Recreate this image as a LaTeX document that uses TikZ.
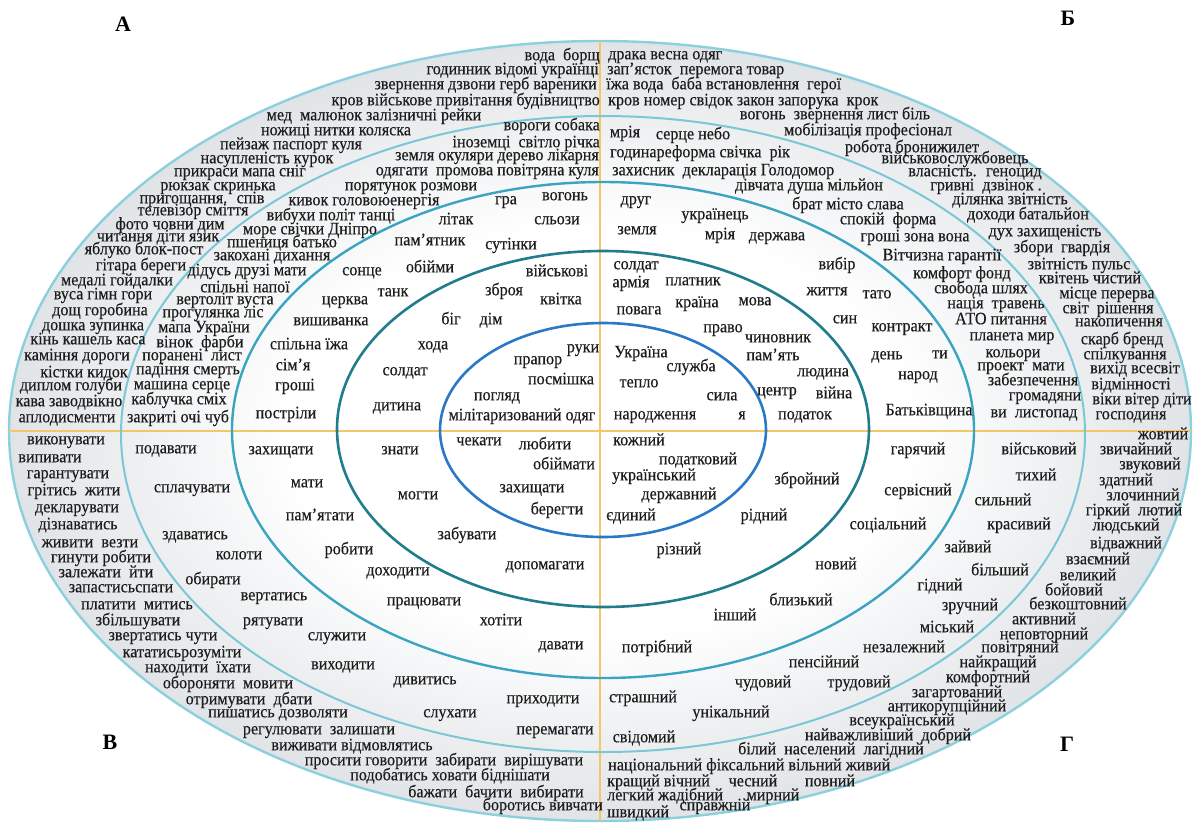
\documentclass[tikz,border=0pt]{standalone}
\usepackage{fontspec}
\setmainfont{Liberation Serif}
\newfontfamily\wdfamily[FakeStretch=0.92, FakeBold=0.3]{Liberation Serif}
\usetikzlibrary{shapes.geometric}
\definecolor{wdink}{HTML}{1C1C1C}
\definecolor{discgray}{HTML}{E1E4E7}
\definecolor{ringfive}{HTML}{8CCFDD}
\definecolor{ringfour}{HTML}{7CC7D7}
\definecolor{ringthree}{HTML}{3BA4C0}
\definecolor{ringtwo}{HTML}{1F7D8C}
\definecolor{ringone}{HTML}{2A79C6}
\definecolor{axisline}{HTML}{F6C46A}
\pgfdeclareradialshading{discshade}{\pgfpoint{0bp}{0bp}}{color(0bp)=(white); color(13bp)=(white); color(20bp)=(discgray!60); color(25bp)=(discgray); color(50bp)=(discgray)}
\newcommand\wdfont{\wdfamily\fontsize{17.5}{17.5}\selectfont}
\tikzset{
  ring/.style={ellipse, inner sep=0pt, outer sep=0pt, line width=#1},
  wd/.style={font=\wdfont, text=wdink, inner sep=0pt, anchor=mid},
  wl/.style={wd, anchor=mid west},
  wr/.style={wd, anchor=mid east},
  quad/.style={font=\fontsize{22}{22}\selectfont\bfseries, inner sep=0pt}
}
\begin{document}
\begin{tikzpicture}[x=1pt,y=-1pt]
\useasboundingbox (0,0) rectangle (1195,823);
% rings, outer to inner
\node[ring=2.4pt, draw=ringfive, shading=discshade, minimum width=1182, minimum height=780] (e5) at (600,431){};
\draw[axisline, line width=1.4pt](e5.west) -- (e5.east);
\draw[axisline, line width=1.4pt](e5.north) -- (e5.south);
\node[ring=2pt, draw=ringfour, minimum width=964, minimum height=636] (e4) at (603,434){};
\node[ring=2.4pt, draw=ringthree, minimum width=742, minimum height=496] (e3) at (603,430){};
\node[ring=2.6pt, draw=ringtwo, minimum width=532, minimum height=356] (e2) at (603,429){};
\node[ring=2.6pt, draw=ringone, minimum width=326, minimum height=214] (e1) at (603,430){};
% quarter letters
\node[quad] (qa) at (123,24){А};
\node[quad] (qb) at (1068,18){Б};
\node[quad] (qv) at (110,742){В};
\node[quad] (qg) at (1067,744){Г};
% quarter A, outer ring
\node[wr] (oa1) at (600,58){вода \ борщ};
\node[wr] (oa2) at (599,72){годинник відомі українці};
\node[wr] (oa3) at (597,87){звернення дзвони герб вареники};
\node[wr] (oa4) at (600,103){кров військове привітання будівництво};
\node[wd] (oa5) at (374,118){мед \ малюнок залізничні рейки};
\node[wd] (oa6) at (336,133){ножиці нитки коляска};
\node[wd] (oa7) at (291,147){пейзаж паспорт куля};
\node[wd] (oa8) at (267,161){насупленість курок};
\node[wd] (oa9) at (240,174){прикраси мапа сніг};
\node[wd] (oa10) at (218,188){рюкзак скринька};
\node[wd] (oa11) at (202,201){пригощання. \ спів};
\node[wd] (oa12) at (193,213){телевізор сміття};
\node[wd] (oa13) at (170,227){фото човни дим};
\node[wd] (oa14) at (158,239){читання діти язик};
\node[wd] (oa15) at (144,252){яблуко блок-пост};
\node[wd] (oa16) at (141,268){гітара береги};
\node[wd] (oa17) at (117,283){медалі гойдалки};
\node[wd] (oa18) at (103,297){вуса гімн гори};
\node[wd] (oa19) at (100,313){дощ горобина};
\node[wd] (oa20) at (93,328){дошка зупинка};
\node[wd] (oa21) at (88,342){кінь кашель каса};
\node[wd] (oa22) at (77,358){каміння дороги};
\node[wd] (oa23) at (84,375){кістки кидок};
\node[wd] (oa24) at (71,388){диплом голуби};
\node[wd] (oa25) at (69,404){кава заводвікно};
\node[wd] (oa26) at (67,420){аплодисменти};
% quarter A, fourth ring
\node[wr] (ta1) at (600,128){вороги собака};
\node[wr] (ta2) at (600,145){іноземці \ світло річка};
\node[wr] (ta3) at (599,158){земля окуляри дерево лікарня};
\node[wr] (ta4) at (599,173){одягати \ промова повітряна куля};
\node[wd] (ta5) at (411,188){порятунок розмови};
\node[wd] (ta6) at (364,203){кивок головоюенергія};
\node[wd] (ta7) at (331,218){вибухи політ танці};
\node[wd] (ta8) at (310,232){море свічки Дніпро};
\node[wd] (ta9) at (282,245){пшениця батько};
\node[wd] (ta10) at (272,258){закохані дихання};
\node[wd] (ta11) at (247,273){дідусь друзі мати};
\node[wd] (ta12) at (245,290){спільні напої};
\node[wd] (ta13) at (225,302){вертоліт вуста};
\node[wd] (ta14) at (213,315){прогулянка ліс};
\node[wd] (ta15) at (204,330){мапа України};
\node[wd] (ta16) at (200,345){вінок \ фарби};
\node[wd] (ta17) at (192,358){поранені \ лист};
\node[wd] (ta18) at (188,372){падіння смерть};
\node[wd] (ta19) at (182,387){машина серце};
\node[wd] (ta20) at (179,402){каблучка сміх};
\node[wd] (ta21) at (178,420){закриті очі чуб};
% quarter A, third ring
\node[wd] (sa1) at (506,202){гра};
\node[wd] (sa2) at (565,198){вогонь};
\node[wd] (sa3) at (456,222){літак};
\node[wd] (sa4) at (557,222){сльози};
\node[wd] (sa5) at (430,243){пам’ятник};
\node[wd] (sa6) at (511,247){сутінки};
\node[wd] (sa7) at (362,273){сонце};
\node[wd] (sa8) at (430,270){обійми};
\node[wd] (sa9) at (393,294){танк};
\node[wd] (sa10) at (345,302){церква};
\node[wd] (sa11) at (331,323){вишиванка};
\node[wd] (sa12) at (309,347){спільна їжа};
\node[wd] (sa13) at (293,368){сім’я};
\node[wd] (sa14) at (295,388){гроші};
\node[wd] (sa15) at (286,416){постріли};
% quarter A, second ring
\node[wd] (na1) at (557,274){військові};
\node[wd] (na2) at (504,293){зброя};
\node[wd] (na3) at (561,302){квітка};
\node[wd] (na4) at (451,322){біг};
\node[wd] (na5) at (491,322){дім};
\node[wd] (na6) at (433,347){хода};
\node[wd] (na7) at (405,373){солдат};
\node[wd] (na8) at (397,408){дитина};
% quarter A, core
\node[wd] (ca1) at (538,362){прапор};
\node[wd] (ca2) at (583,350){руки};
\node[wd] (ca3) at (561,382){посмішка};
\node[wd] (ca4) at (497,398){погляд};
\node[wd] (ca5) at (522,418){мілітаризований одяг};
% quarter B, outer ring
\node[wl] (ob1) at (608,57){драка весна одяг};
\node[wl] (ob2) at (607,72){зап’ясток \ перемога товар};
\node[wl] (ob3) at (606,87){їжа вода \ баба встановлення \ герої};
\node[wl] (ob4) at (608,103){кров номер свідок закон запорука \ крок};
\node[wd] (ob5) at (835,117){вогонь \ звернення лист біль};
\node[wd] (ob6) at (868,133){мобілізація професіонал};
\node[wd] (ob7) at (912,150){робота бронижилет};
\node[wd] (ob8) at (955,161){військовослужбовець};
\node[wd] (ob9) at (975,174){власність. \ геноцид};
\node[wd] (ob10) at (986,188){гривні \ дзвінок .};
\node[wd] (ob11) at (1010,202){ділянка звітність};
\node[wd] (ob12) at (1028,217){доходи батальйон};
\node[wd] (ob13) at (1045,234){дух захищеність};
\node[wd] (ob14) at (1062,250){збори \ гвардія};
\node[wd] (ob15) at (1079,267){звітність пульс};
\node[wd] (ob16) at (1090,281){квітень чистий};
\node[wd] (ob17) at (1107,296){місце перерва};
\node[wd] (ob18) at (1108,311){світ \ рішення};
\node[wd] (ob19) at (1119,324){накопичення};
\node[wd] (ob20) at (1122,342){скарб бренд};
\node[wd] (ob21) at (1125,357){спілкування};
\node[wd] (ob22) at (1135,371){вихід всесвіт};
\node[wd] (ob23) at (1131,387){відмінності};
\node[wd] (ob24) at (1142,402){віки вітер діти};
\node[wd] (ob25) at (1131,417){господиня};
% quarter B, fourth ring
\node[wd] (tb1) at (625,135){мрія};
\node[wd] (tb2) at (693,137){серце небо};
\node[wl] (tb3) at (610,155){годинареформа свічка \ рік};
\node[wl] (tb4) at (612,173){захисник \ декларація Голодомор};
\node[wd] (tb5) at (809,188){дівчата душа мільйон};
\node[wd] (tb6) at (848,207){брат місто слава};
\node[wd] (tb7) at (888,222){спокій \ форма};
\node[wd] (tb8) at (915,239){гроші зона вона};
\node[wd] (tb9) at (942,258){Вітчизна гарантії};
\node[wd] (tb10) at (962,276){комфорт фонд};
\node[wd] (tb11) at (981,291){свобода шлях};
\node[wd] (tb12) at (996,306){нація \ травень};
\node[wd] (tb13) at (1001,322){АТО питання};
\node[wd] (tb14) at (1012,338){планета мир};
\node[wd] (tb15) at (1013,355){кольори};
\node[wd] (tb16) at (1021,368){проект \ мати};
\node[wd] (tb17) at (1033,383){забезпечення};
\node[wd] (tb18) at (1045,398){громадяни};
\node[wd] (tb19) at (1034,415){ви \ листопад};
% quarter B, third ring
\node[wd] (sb1) at (636,202){друг};
\node[wd] (sb2) at (715,217){українець};
\node[wd] (sb3) at (637,232){земля};
\node[wd] (sb4) at (720,237){мрія};
\node[wd] (sb5) at (777,238){держава};
\node[wd] (sb6) at (837,267){вибір};
\node[wd] (sb7) at (827,293){життя};
\node[wd] (sb8) at (877,296){тато};
\node[wd] (sb9) at (845,321){син};
\node[wd] (sb10) at (902,329){контракт};
\node[wd] (sb11) at (887,357){день};
\node[wd] (sb12) at (940,356){ти};
\node[wd] (sb13) at (918,377){народ};
\node[wd] (sb14) at (929,413){Батьківщина};
% quarter B, second ring
\node[wd] (nb1) at (636,267){солдат};
\node[wd] (nb2) at (631,285){армія};
\node[wd] (nb3) at (693,283){платник};
\node[wd] (nb4) at (639,312){повага};
\node[wd] (nb5) at (697,305){країна};
\node[wd] (nb6) at (755,303){мова};
\node[wd] (nb7) at (723,330){право};
\node[wd] (nb8) at (778,340){чиновник};
\node[wd] (nb9) at (773,358){пам’ять};
\node[wd] (nb10) at (823,374){людина};
\node[wd] (nb11) at (777,393){центр};
\node[wd] (nb12) at (834,396){війна};
\node[wd] (nb13) at (805,417){податок};
% quarter B, core
\node[wd] (cb1) at (641,355){Україна};
\node[wd] (cb2) at (691,369){служба};
\node[wd] (cb3) at (639,385){тепло};
\node[wd] (cb4) at (722,398){сила};
\node[wd] (cb5) at (655,417){народження};
\node[wd] (cb6) at (742,417){я};
% quarter V, outer ring
\node[wd] (ov1) at (66,442){виконувати};
\node[wd] (ov2) at (50,460){випивати};
\node[wd] (ov3) at (68,476){гарантувати};
\node[wd] (ov4) at (74,493){грітись \ жити};
\node[wd] (ov5) at (77,510){декларувати};
\node[wd] (ov6) at (78,527){дізнаватись};
\node[wd] (ov7) at (90,545){живити \ везти};
\node[wd] (ov8) at (101,560){гинути робити};
\node[wd] (ov9) at (106,575){залежати \ йти};
\node[wd] (ov10) at (121,590){запастисьспати};
\node[wd] (ov11) at (137,607){платити \ митись};
\node[wd] (ov12) at (138,623){збільшувати};
\node[wd] (ov13) at (163,638){звертатись чути};
\node[wd] (ov14) at (182,655){кататисьрозуміти};
\node[wd] (ov15) at (198,670){находити \ їхати};
\node[wd] (ov16) at (228,686){обороняти \ мовити};
\node[wd] (ov17) at (249,702){отримувати \ дбати};
\node[wd] (ov18) at (278,715){пишатись дозволяти};
\node[wd] (ov19) at (319,732){регулювати \ залишати};
\node[wd] (ov20) at (352,748){виживати відмовлятись};
\node[wd] (ov21) at (444,763){просити говорити \ забирати \ вирішувати};
\node[wd] (ov22) at (450,778){подобатись ховати біднішати};
\node[wd] (ov23) at (496,795){бажати \ бачити \ вибирати};
\node[wr] (ov24) at (603,808){боротись вивчати};
% quarter V, fourth ring
\node[wd] (tv1) at (166,451){подавати};
\node[wd] (tv2) at (192,490){сплачувати};
\node[wd] (tv3) at (195,537){здаватись};
\node[wd] (tv4) at (239,557){колоти};
\node[wd] (tv5) at (213,582){обирати};
\node[wd] (tv6) at (274,598){вертатись};
\node[wd] (tv7) at (273,623){рятувати};
\node[wd] (tv8) at (337,638){служити};
\node[wd] (tv9) at (343,667){виходити};
\node[wd] (tv10) at (425,682){дивитись};
\node[wd] (tv11) at (543,701){приходити};
\node[wd] (tv12) at (450,715){слухати};
\node[wd] (tv13) at (555,732){перемагати};
% quarter V, third ring
\node[wd] (sv1) at (281,452){захищати};
\node[wd] (sv2) at (307,485){мати};
\node[wd] (sv3) at (320,518){пам’ятати};
\node[wd] (sv4) at (349,552){робити};
\node[wd] (sv5) at (398,573){доходити};
\node[wd] (sv6) at (424,603){працювати};
\node[wd] (sv7) at (501,623){хотіти};
\node[wd] (sv8) at (561,647){давати};
% quarter V, second ring
\node[wd] (nv1) at (400,452){знати};
\node[wd] (nv2) at (418,497){могти};
\node[wd] (nv3) at (467,537){забувати};
\node[wd] (nv4) at (545,567){допомагати};
% quarter V, core
\node[wd] (cv1) at (479,443){чекати};
\node[wd] (cv2) at (545,447){любити};
\node[wd] (cv3) at (564,467){обіймати};
\node[wd] (cv4) at (532,490){захищати};
\node[wd] (cv5) at (557,512){берегти};
% quarter G, core
\node[wd] (cg1) at (639,443){кожний};
\node[wd] (cg2) at (698,462){податковий};
\node[wd] (cg3) at (654,478){український};
\node[wd] (cg4) at (679,497){державний};
\node[wd] (cg5) at (631,518){єдиний};
% quarter G, second ring
\node[wd] (ng1) at (807,482){збройний};
\node[wd] (ng2) at (764,518){рідний};
\node[wd] (ng3) at (679,552){різний};
% quarter G, third ring
\node[wd] (sg1) at (918,452){гарячий};
\node[wd] (sg2) at (918,493){сервісний};
\node[wd] (sg3) at (888,527){соціальний};
\node[wd] (sg4) at (836,567){новий};
\node[wd] (sg5) at (801,603){близький};
\node[wd] (sg6) at (735,618){інший};
\node[wd] (sg7) at (657,650){потрібний};
% quarter G, fourth ring
\node[wd] (tg1) at (1039,452){військовий};
\node[wd] (tg2) at (1036,478){тихий};
\node[wd] (tg3) at (1003,503){сильний};
\node[wd] (tg4) at (1019,527){красивий};
\node[wd] (tg5) at (968,550){зайвий};
\node[wd] (tg6) at (1000,573){більший};
\node[wd] (tg7) at (940,588){гідний};
\node[wd] (tg8) at (970,608){зручний};
\node[wd] (tg9) at (947,630){міський};
\node[wd] (tg10) at (904,650){незалежний};
\node[wd] (tg11) at (824,665){пенсійний};
\node[wd] (tg12) at (859,685){трудовий};
\node[wd] (tg13) at (763,685){чудовий};
\node[wd] (tg14) at (731,715){унікальний};
\node[wd] (tg15) at (643,700){страшний};
\node[wd] (tg16) at (644,740){свідомий};
% quarter G, outer ring
\node[wd] (og1) at (1163,437){жовтий};
\node[wd] (og2) at (1136,452){звичайний};
\node[wd] (og3) at (1150,467){звуковий};
\node[wd] (og4) at (1126,483){здатний};
\node[wd] (og5) at (1143,498){злочинний};
\node[wd] (og6) at (1134,513){гіркий \ лютий};
\node[wd] (og7) at (1126,528){людський};
\node[wd] (og8) at (1126,546){відважний};
\node[wd] (og9) at (1098,562){взаємний};
\node[wd] (og10) at (1088,578){великий};
\node[wd] (og11) at (1074,593){бойовий};
\node[wd] (og12) at (1078,607){безкоштовний};
\node[wd] (og13) at (1044,622){активний};
\node[wd] (og14) at (1044,637){неповторний};
\node[wd] (og15) at (1020,650){повітряний};
\node[wd] (og16) at (998,665){найкращий};
\node[wd] (og17) at (988,680){комфортний};
\node[wd] (og18) at (957,695){загартований};
\node[wd] (og19) at (947,709){антикорупційний};
\node[wd] (og20) at (902,723){всеукраїнський};
\node[wd] (og21) at (888,738){найважливіший \ добрий};
\node[wd] (og22) at (831,752){білий \ населений \ лагідний};
\node[wl] (og23) at (608,768){національний фіксальний вільний живий};
\node[wl] (og24) at (607,784){кращий вічний};
\node[wd] (og25) at (753,784){чесний};
\node[wd] (og26) at (830,784){повний};
\node[wl] (og27) at (607,798){легкий жадібний};
\node[wd] (og28) at (773,798){мирний};
\node[wd] (og29) at (715,808){справжній};
\node[wl] (og30) at (607,815){швидкий};
\end{tikzpicture}
\end{document}
